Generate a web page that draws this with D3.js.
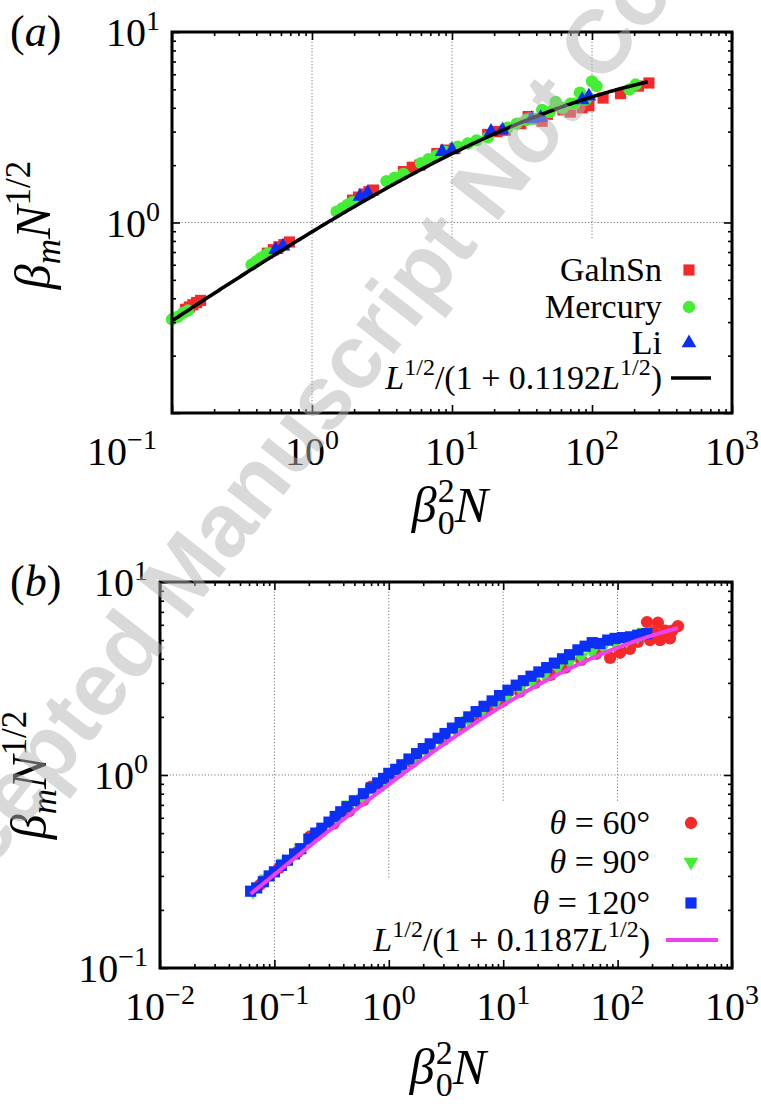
<!DOCTYPE html>
<html>
<head>
<meta charset="utf-8">
<script src="https://cdn.jsdelivr.net/npm/d3@7"></script>
<style>
  body { margin: 0; background: #fff; }
  svg { display: block; }
  .serif { font-family: "Liberation Serif", "Times New Roman", Times, Tinos, "Noto Serif", "DejaVu Serif", serif; }
  .stamp { font-family: "Liberation Sans", Arial, "DejaVu Sans", sans-serif; font-weight: bold; }
</style>
</head>
<body>
<svg id="fig" width="761" height="1104"></svg>
<script>
// ---------------- data ----------------
// Panel (a): liquid metals, [beta0^2 N, beta_m N^(1/2)]
const galinstanA = [
  [0.125,0.35],[0.133,0.36],[0.141,0.37],[0.150,0.38],[0.160,0.39],
  [0.48,0.69],[0.53,0.72],[0.58,0.745],[0.63,0.765],[0.69,0.79],
  [1.95,1.31],[2.15,1.36],[2.35,1.41],[2.55,1.45],[2.75,1.48],
  [4.5,1.85],[5.2,1.95],[5.9,2.0],
  [7.8,2.3],[9.0,2.4],[10.5,2.45],
  [18,2.9],[21,3.0],[24,3.05],
  [31,3.3],[35,3.6],[40,3.5],[44,3.4],
  [48,3.7],[55,4.1],[62,3.9],[70,3.8],
  [85,4.0],[95,4.1],
  [120,4.5],[160,4.75],[215,5.2],[255,5.4]
];
const mercuryA = [
  [0.1,0.31],[0.11,0.32],[0.12,0.335],[0.13,0.345],
  [0.37,0.6],[0.40,0.625],[0.43,0.65],[0.46,0.67],[0.49,0.69],
  [1.5,1.14],[1.65,1.19],[1.8,1.24],[1.95,1.28],
  [3.4,1.65],[3.9,1.72],[4.5,1.8],
  [6.0,2.05],[6.8,2.15],[7.8,2.25],[9.0,2.35],
  [11,2.5],[13,2.6],[15,2.7],[18,2.8],
  [25,3.15],[29,3.3],[34,3.45],
  [38,3.5],[44,3.9],[50,3.8],
  [55,4.3],[62,4.0],[70,4.2],
  [75,4.2],[82,4.8],[90,4.4],
  [100,5.5],[108,5.2],
  [185,5.0],[205,5.3]
];
const lithiumA = [
  [0.55,0.72],[0.62,0.75],[2.2,1.37],[2.5,1.43],[8.5,2.35],[10,2.4],
  [19,3.0],[23,3.05],[37,3.5],[43,3.55],[85,4.4],[95,4.6]
];
const fitCoefA = 0.1192;
const fitRangeA = [0.1, 250];

// Panel (b): contact angle series
const theta60 = [
  [0.075,0.27],[0.11,0.33],[0.16,0.40],[0.205,0.48],[0.24,0.50],[0.33,0.56],
  [0.45,0.65],[0.6,0.74],[0.7,0.87],[0.8,0.9],[0.95,0.95],[1.2,1.03],[1.6,1.17],
  [2.2,1.35],[3.0,1.52],[4.0,1.72],[5.5,1.95],[7.5,2.2],[10,2.42],[14,2.7],
  [19,3.0],[26,3.3],[35,3.6],[48,3.95],[65,4.25],[86,4.05],[105,4.3],[128,4.5],
  [150,4.9],[181,6.2],[192,5.0],[205,5.5],[225,6.15],[235,5.0],[260,5.6],
  [287,5.1],[300,5.6],[337,5.9]
];
const theta90 = [
  [0.065,0.25],[0.085,0.29],[0.12,0.35],[0.17,0.42],[0.25,0.5],[0.35,0.59],
  [0.45,0.7],[0.52,0.74],[0.6,0.76],[0.9,0.9],[1.2,1.04],[1.6,1.19],[2.1,1.34],
  [2.8,1.52],[3.8,1.72],[5,1.92],[6.5,2.12],[8.5,2.35],[11,2.58],[14,2.8],
  [18,3.05],[23,3.3],[30,3.6],[38,3.85],[48,4.1],[60,4.35],[75,4.6],[95,4.8],
  [120,5.0],[150,5.25],[170,5.5]
];
const theta120 = [
  [0.062,0.25],[0.07,0.26],[0.08,0.28],[0.09,0.30],[0.10,0.315],[0.115,0.34],
  [0.13,0.362],[0.15,0.39],[0.17,0.415],[0.2,0.465],[0.23,0.50],[0.26,0.53],
  [0.3,0.57],[0.34,0.61],[0.38,0.645],[0.43,0.685],[0.5,0.735],[0.6,0.80],
  [0.7,0.855],[0.8,0.91],[0.9,0.96],[1.0,1.02],[1.15,1.07],[1.3,1.13],[1.5,1.21],
  [1.75,1.29],[2.0,1.37],[2.3,1.45],[2.7,1.55],[3.1,1.64],[3.6,1.75],[4.2,1.87],
  [5.0,2.0],[5.8,2.13],[6.8,2.27],[8.0,2.42],[9.3,2.58],[11,2.75],[13,2.92],
  [15,3.08],[17.5,3.25],[20.5,3.42],[24,3.6],[28,3.8],[33,4.0],[38,4.2],
  [45,4.45],[52,4.65],[60,4.85],[70,4.8],[82,5.0],[95,5.1],[110,5.15],
  [130,5.2],[150,5.3],[165,5.35],[180,5.4]
];
const fitCoefB = 0.1187;
const fitRangeB = [0.062, 337];

// axis decades
const xDecadesA = [-1, 0, 1, 2, 3];
const yDecadesA = [0, 1];
const xDecadesB = [-2, -1, 0, 1, 2, 3];
const yDecadesB = [-1, 0, 1];

// ---------------- drawing ----------------
const svg = d3.select('#fig');
const RED = '#f42a2a', GREEN = '#45ee35', BLUE = '#0b2ff4', MAGENTA = '#f040f0';
const LEGEND_SIZE = 34, LEGEND_SUP = 24;

function pow10Label(g, x, y, exp, anchor) {
  const t = g.append('text').attr('class', 'serif')
    .attr('x', x).attr('y', y)
    .attr('text-anchor', anchor)
    .attr('font-size', 40).attr('fill', '#000');
  t.append('tspan').text('10');
  t.append('tspan').attr('dy', -16).attr('font-size', 28)
    .text(exp < 0 ? '\u2212' + (-exp) : String(exp));
  return t;
}

function yTitle(g, cx, cy) {
  const t = g.append('text').attr('class', 'serif')
    .attr('transform', `translate(${cx},${cy}) rotate(-90)`)
    .attr('text-anchor', 'middle')
    .attr('font-size', 50);
  t.append('tspan').attr('font-style', 'italic').text('\u03b2');
  t.append('tspan').attr('font-style', 'italic').attr('font-size', 35).attr('dy', 10).text('m');
  t.append('tspan').attr('font-style', 'italic').attr('dy', -10).text('N');
  t.append('tspan').attr('font-size', 35).attr('dy', -20).text('1/2');
}

function xTitle(g, cx, baseline) {
  const grp = g.append('g');
  const beta = grp.append('text').attr('class', 'serif').attr('font-size', 50)
    .attr('font-style', 'italic').attr('y', baseline).text('\u03b2');
  const wb = beta.node().getComputedTextLength();
  const sup = grp.append('text').attr('class', 'serif').attr('font-size', 34)
    .attr('x', wb + 1).attr('y', baseline - 20).text('2');
  const sub = grp.append('text').attr('class', 'serif').attr('font-size', 34)
    .attr('x', wb + 1).attr('y', baseline + 12).text('0');
  const ws = Math.max(sup.node().getComputedTextLength(), sub.node().getComputedTextLength());
  const n = grp.append('text').attr('class', 'serif').attr('font-size', 50)
    .attr('font-style', 'italic').attr('x', wb + ws + 1).attr('y', baseline).text('N');
  const total = wb + ws + 1 + n.node().getComputedTextLength();
  grp.attr('transform', `translate(${cx - total / 2},0)`);
}

function fitLabel(g, xRight, y, coef) {
  const t = g.append('text').attr('class', 'serif').attr('x', xRight).attr('y', y)
    .attr('text-anchor', 'end').attr('font-size', LEGEND_SIZE);
  t.append('tspan').attr('font-style', 'italic').text('L');
  t.append('tspan').attr('font-size', LEGEND_SUP).attr('dy', -14).text('1/2');
  t.append('tspan').attr('dy', 14).text('/(1 + ' + coef.toFixed(4));
  t.append('tspan').attr('font-style', 'italic').text('L');
  t.append('tspan').attr('font-size', LEGEND_SUP).attr('dy', -14).text('1/2');
  t.append('tspan').attr('dy', 14).text(')');
}

function thetaLabel(g, xRight, y, deg) {
  const t = g.append('text').attr('class', 'serif').attr('x', xRight).attr('y', y)
    .attr('text-anchor', 'end').attr('font-size', LEGEND_SIZE);
  t.append('tspan').attr('font-style', 'italic').text('\u03b8');
  t.append('tspan').text(' = ' + deg + '\u00b0');
}

function symbolPath(kind) {
  if (kind === 'square') return d3.symbol(d3.symbolSquare, 125)();
  if (kind === 'circle') return d3.symbol(d3.symbolCircle, 120)();
  return d3.symbol(d3.symbolTriangle, 95)();
}

function drawPanel(cfg) {
  const g = svg.append('g');
  const x = d3.scaleLog().domain(cfg.xDomain).range([cfg.left, cfg.right]);
  const y = d3.scaleLog().domain(cfg.yDomain).range([cfg.bottom, cfg.top]);

  // dotted grid
  const grid = g.append('g').attr('stroke', '#7a7a7a').attr('stroke-width', 1)
    .attr('stroke-dasharray', '1.2,2');
  cfg.vGrid.forEach(v => {
    grid.append('line').attr('x1', x(v.at)).attr('x2', x(v.at))
      .attr('y1', cfg.top).attr('y2', v.to == null ? cfg.bottom : v.to);
  });
  cfg.hGrid.forEach(v => {
    grid.append('line').attr('x1', cfg.left).attr('x2', cfg.right)
      .attr('y1', y(v)).attr('y2', y(v));
  });

  // fit curve samples
  const n = 240;
  const lo = Math.log10(cfg.fitRange[0]), hi = Math.log10(cfg.fitRange[1]);
  const curvePts = d3.range(n + 1).map(i => {
    const L = Math.pow(10, lo + (hi - lo) * i / n);
    const s = Math.sqrt(L);
    return [L, s / (1 + cfg.fitCoef * s)];
  });

  // data series
  cfg.series.forEach(s => {
    g.append('g').selectAll('path').data(s.data).join('path')
      .attr('d', symbolPath(s.shape))
      .attr('transform', d => `translate(${x(d[0])},${y(d[1])})${s.flip ? ' rotate(180)' : ''}`)
      .attr('fill', s.color);
  });

  g.append('path').datum(curvePts)
    .attr('d', d3.line().x(d => x(d[0])).y(d => y(d[1])))
    .attr('fill', 'none').attr('stroke', cfg.curveColor)
    .attr('stroke-width', cfg.curveWidth);

  // ticks on four sides, pointing inward
  const xt = x.ticks(), yt = y.ticks();
  const isMajor = v => Math.abs(Math.log10(v) - Math.round(Math.log10(v))) < 1e-9;
  const xMaj = xt.filter(isMajor), xMin = xt.filter(v => !isMajor(v));
  const yMaj = yt.filter(isMajor), yMin = yt.filter(v => !isMajor(v));
  const tickLayer = (axis, pos, vals, len) => {
    const a = g.append('g').attr('transform', pos)
      .call(axis.tickValues(vals).tickSize(-len).tickFormat(''));
    a.select('.domain').remove();
    a.selectAll('line').attr('stroke', '#000').attr('stroke-width', 1.6);
  };
  [[xMaj, 8], [xMin, 4]].forEach(([vals, len]) => {
    tickLayer(d3.axisBottom(x), `translate(0,${cfg.bottom})`, vals, len);
    tickLayer(d3.axisTop(x), `translate(0,${cfg.top})`, vals, len);
  });
  [[yMaj, 8], [yMin, 4]].forEach(([vals, len]) => {
    tickLayer(d3.axisLeft(y), `translate(${cfg.left},0)`, vals, len);
    tickLayer(d3.axisRight(y), `translate(${cfg.right},0)`, vals, len);
  });

  // frame
  g.append('rect').attr('x', cfg.left).attr('y', cfg.top)
    .attr('width', cfg.right - cfg.left).attr('height', cfg.bottom - cfg.top)
    .attr('fill', 'none').attr('stroke', '#000').attr('stroke-width', 3);

  // tick labels
  cfg.xDecades.forEach(e => {
    const shift = (cfg.xLabelShift && cfg.xLabelShift[e]) || 0;
    pow10Label(g, x(Math.pow(10, e)) + shift, cfg.bottom + 52, e, 'middle');
  });
  cfg.yDecades.forEach(e => {
    pow10Label(g, cfg.left - 12, y(Math.pow(10, e)) + 14, e, 'end');
  });

  // axis titles and panel tag
  yTitle(g, cfg.yTitlePos[0], cfg.yTitlePos[1]);
  xTitle(g, cfg.xTitlePos[0], cfg.xTitlePos[1]);
  const tag = g.append('text').attr('class', 'serif').attr('x', 10).attr('y', cfg.tagY)
    .attr('font-size', 44);
  tag.append('tspan').text('(');
  tag.append('tspan').attr('font-style', 'italic').text(cfg.tag);
  tag.append('tspan').text(')');

  // legend
  const lg = cfg.legend;
  cfg.series.forEach((s, i) => {
    const ry = lg.rows[i];
    s.label(g, lg.textRight, ry + 11);
    g.append('path').attr('d', symbolPath(s.shape))
      .attr('transform', `translate(${lg.symX},${ry})${s.flip ? ' rotate(180)' : ''}`)
      .attr('fill', s.color);
  });
  const ry = lg.rows[cfg.series.length];
  fitLabel(g, lg.textRight, ry + 11, cfg.fitCoef);
  g.append('line').attr('x1', lg.line[0]).attr('x2', lg.line[1])
    .attr('y1', ry).attr('y2', ry)
    .attr('stroke', cfg.curveColor).attr('stroke-width', cfg.curveWidth);
}

const textLabel = str => (g, xr, yy) => g.append('text').attr('class', 'serif')
  .attr('x', xr).attr('y', yy).attr('text-anchor', 'end').attr('font-size', LEGEND_SIZE).text(str);

drawPanel({
  tag: 'a', tagY: 46,
  left: 172, right: 732, top: 32, bottom: 413,
  xDomain: [0.1, 1000], yDomain: [0.1, 10],
  xDecades: xDecadesA, yDecades: yDecadesA,
  xLabelShift: { '-1': -50 },
  vGrid: [{ at: 1 }, { at: 10, to: 238 }, { at: 100, to: 238 }],
  hGrid: [1],
  fitCoef: fitCoefA, fitRange: fitRangeA,
  curveColor: '#000', curveWidth: 3.6,
  series: [
    { data: galinstanA, shape: 'square', color: RED, label: textLabel('GalnSn') },
    { data: mercuryA, shape: 'circle', color: GREEN, label: textLabel('Mercury') },
    { data: lithiumA, shape: 'triangle', color: BLUE, label: textLabel('Li') }
  ],
  legend: { rows: [270, 307, 343, 378], textRight: 662, symX: 689, line: [671, 711] },
  yTitlePos: [50, 225], xTitlePos: [450, 522]
});

drawPanel({
  tag: 'b', tagY: 596,
  left: 160, right: 732, top: 582, bottom: 968,
  xDomain: [0.01, 1000], yDomain: [0.1, 10],
  xDecades: xDecadesB, yDecades: yDecadesB,
  vGrid: [{ at: 0.1 }, { at: 1, to: 878 }, { at: 10, to: 802 }, { at: 100, to: 802 }],
  hGrid: [1],
  fitCoef: fitCoefB, fitRange: fitRangeB,
  curveColor: MAGENTA, curveWidth: 4,
  series: [
    { data: theta60, shape: 'circle', color: RED, label: (g, xr, yy) => thetaLabel(g, xr, yy, 60) },
    { data: theta90, shape: 'triangle', flip: true, color: GREEN, label: (g, xr, yy) => thetaLabel(g, xr, yy, 90) },
    { data: theta120, shape: 'square', color: BLUE, label: (g, xr, yy) => thetaLabel(g, xr, yy, 120) }
  ],
  legend: { rows: [823, 862, 903, 940], textRight: 650, symX: 691, line: [666, 718] },
  yTitlePos: [46, 775], xTitlePos: [448, 1084]
});

// diagonal status stamp across the figure
svg.append('text').attr('class', 'stamp')
  .attr('transform', 'translate(-81,962) rotate(-52)')
  .attr('font-size', 90)
  .attr('fill', '#b4b4b4').attr('fill-opacity', 0.5)
  .text('Accepted Manuscript Not Copyedited');
</script>
</body>
</html>
